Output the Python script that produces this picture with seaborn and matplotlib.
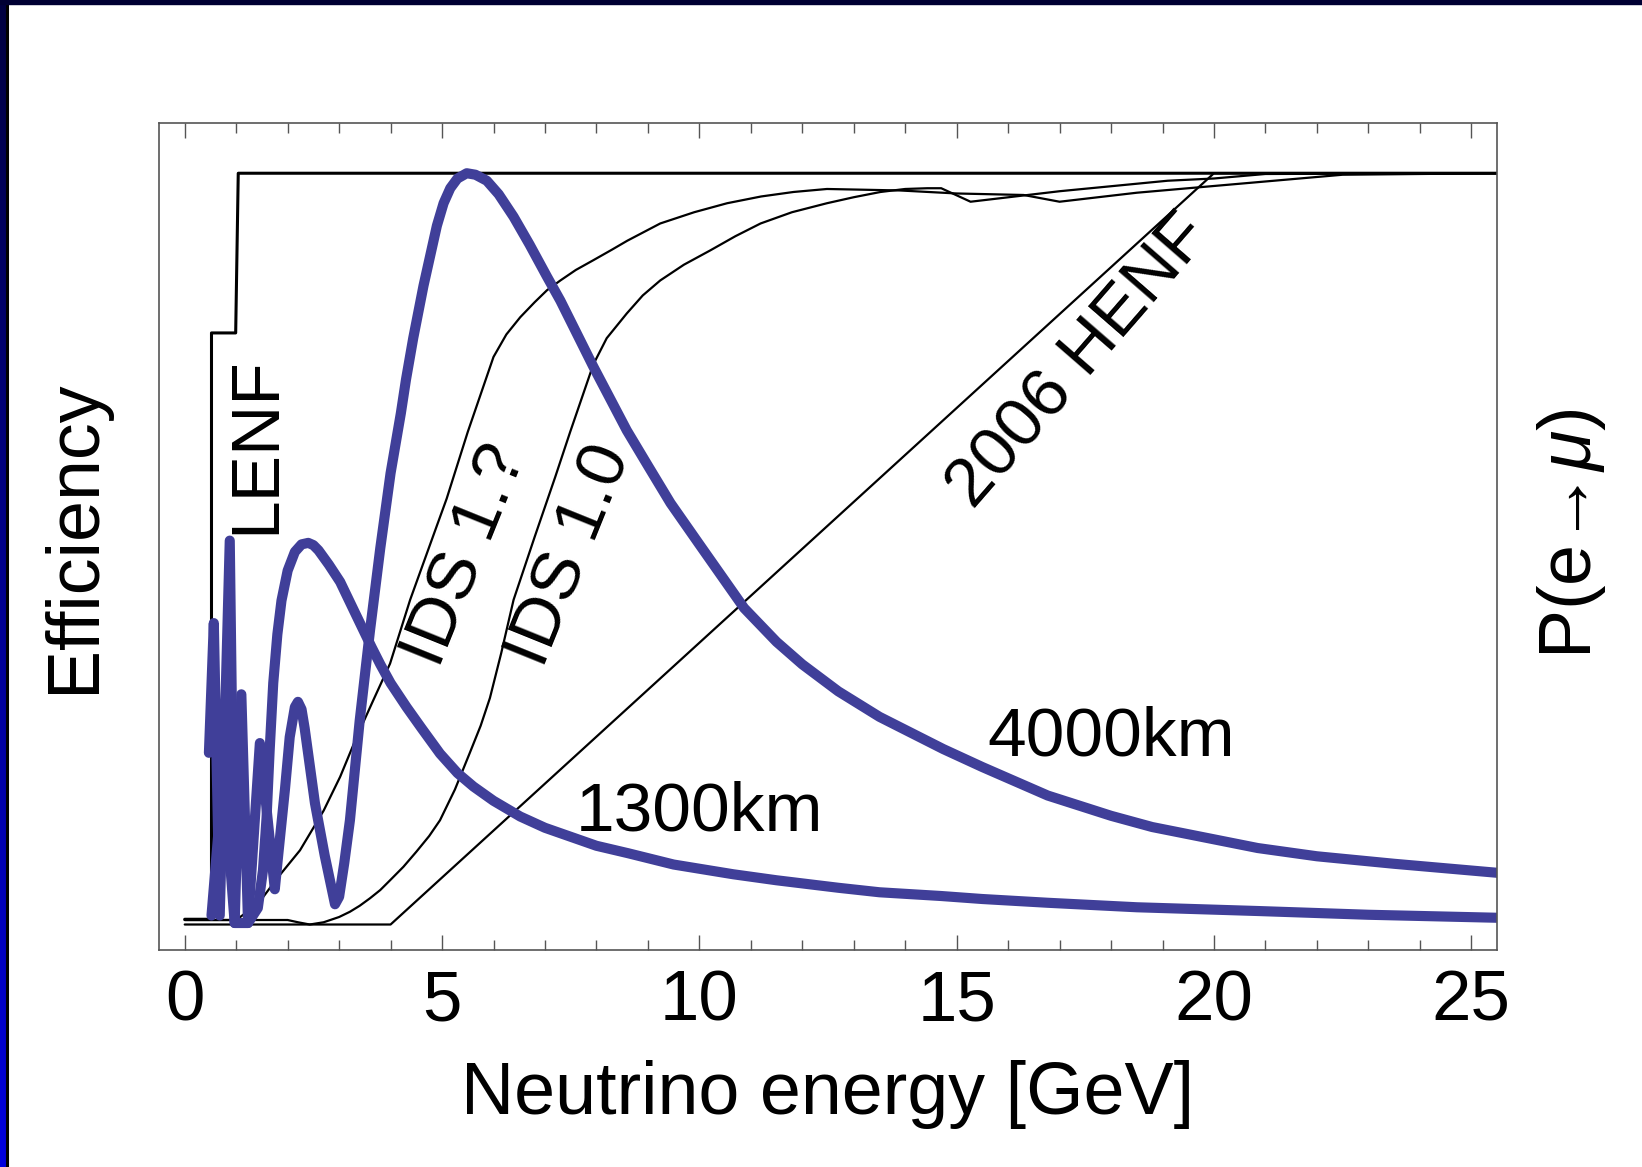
import numpy as np
import pandas as pd
import matplotlib
matplotlib.use("Agg")
import matplotlib.pyplot as plt
import seaborn as sns
from matplotlib.patches import Rectangle
from matplotlib.lines import Line2D

# ---- data ----
lenf_x = [0.0, 0.52, 0.52, 0.99, 1.04, 25.5]
lenf_y = [0.005, 0.005, 0.787, 0.787, 1.0, 1.0]

ids1q_x = [0.0, 1.0, 1.43, 1.8, 2.24, 2.7, 3.02, 3.34, 3.65, 3.99, 4.38, 4.9, 5.09, 5.5,
           6.0, 6.25, 6.52, 6.8, 7.04, 7.3, 7.6, 7.94, 8.3, 8.6, 9.24, 9.9, 10.54, 11.2,
           11.83, 12.48, 13.2, 13.9, 15.0, 16.3, 17.0, 18.5, 20.0, 21.5, 22.5, 25.5]
ids1q_y = [0.004, 0.004, 0.026, 0.06, 0.097, 0.15, 0.195, 0.248, 0.295, 0.346, 0.431, 0.53,
           0.566, 0.655, 0.755, 0.785, 0.808, 0.828, 0.844, 0.857, 0.871, 0.884, 0.898,
           0.91, 0.933, 0.948, 0.96, 0.969, 0.975, 0.979, 0.978, 0.977, 0.973, 0.971,
           0.962, 0.974, 0.983, 0.992, 0.998, 1.0]

ids10_x = [0.0, 2.0, 2.2, 2.43, 2.7, 3.0, 3.21, 3.4, 3.6, 3.8, 3.99, 4.25, 4.5, 4.75,
           4.96, 5.25, 5.54, 5.75, 5.93, 6.15, 6.39, 6.8, 7.2, 7.49, 7.94, 8.2, 8.59, 8.9,
           9.24, 9.7, 10.21, 10.7, 11.19, 11.8, 12.48, 13.0, 13.52, 14.0, 14.43, 14.7,
           15.27, 17.0, 19.1, 20.0, 21.0, 25.5]
ids10_y = [0.004, 0.004, 0.001, -0.002, 0.001, 0.008, 0.015, 0.023, 0.033, 0.044, 0.057,
           0.075, 0.095, 0.116, 0.137, 0.178, 0.227, 0.263, 0.30, 0.36, 0.431, 0.515,
           0.595, 0.655, 0.745, 0.78, 0.813, 0.837, 0.857, 0.878, 0.897, 0.916, 0.933,
           0.948, 0.96, 0.968, 0.975, 0.979, 0.98, 0.98, 0.962, 0.976, 0.99, 0.993, 0.999,
           1.0]

henf_x = [0.0, 4.0, 20.0, 25.5]
henf_y = [-0.002, -0.002, 1.0, 1.0]

p1300_x = [0.47, 0.565, 0.68, 0.875, 0.97, 1.23, 1.42, 1.52, 1.59, 1.65, 1.72, 1.80, 1.88,
           2.0, 2.14, 2.27, 2.4, 2.5, 2.6, 2.8, 3.02, 3.3, 3.63, 3.8, 4.0, 4.31, 4.6,
           4.96, 5.3, 5.61, 6.0, 6.52, 7.0, 7.5, 8.0, 8.62, 9.5, 10.66, 11.5, 12.7, 13.5,
           14.7, 15.5, 16.77, 18.5, 20.85, 23.0, 25.5]
p1300_y = [0.227, 0.40, 0.01, 0.51, 0.0, 0.0, 0.02, 0.07, 0.14, 0.23, 0.32, 0.385, 0.43,
           0.47, 0.495, 0.505, 0.507, 0.504, 0.497, 0.478, 0.455, 0.415, 0.368, 0.345,
           0.32, 0.288, 0.26, 0.226, 0.2, 0.182, 0.163, 0.142, 0.127, 0.115, 0.103, 0.093,
           0.078, 0.065, 0.057, 0.047, 0.041, 0.036, 0.032, 0.027, 0.021, 0.016, 0.011,
           0.007]

p4000_x = [0.52, 0.75, 0.97, 1.10, 1.23, 1.46, 1.75, 1.82, 1.95, 2.04, 2.14, 2.2, 2.27,
           2.33, 2.53, 2.72, 2.92, 3.0, 3.1, 3.21, 3.3, 3.4, 3.5, 3.6, 3.7, 3.8, 3.9, 4.0,
           4.1, 4.2, 4.3, 4.44, 4.54, 4.64, 4.77, 4.9, 5.03, 5.16, 5.3, 5.48, 5.65, 5.87,
           6.1, 6.39, 6.7, 7.04, 7.3, 7.94, 8.59, 9.0, 9.44, 10.0, 10.87, 11.5, 12.0,
           12.7, 13.5, 14.74, 15.5, 16.77, 18.0, 18.8, 20.85, 22.0, 23.5, 25.5]
p4000_y = [0.01, 0.2, 0.0, 0.305, 0.0, 0.24, 0.045, 0.093, 0.18, 0.248, 0.288, 0.295,
           0.285, 0.26, 0.16, 0.09, 0.025, 0.035, 0.08, 0.137, 0.2, 0.27, 0.33, 0.39,
           0.445, 0.50, 0.55, 0.60, 0.64, 0.68, 0.725, 0.78, 0.815, 0.85, 0.89, 0.93,
           0.96, 0.98, 0.993, 1.0, 0.998, 0.99, 0.972, 0.942, 0.905, 0.862, 0.83, 0.742,
           0.657, 0.61, 0.56, 0.505, 0.42, 0.375, 0.345, 0.309, 0.275, 0.232, 0.208,
           0.17, 0.143, 0.128, 0.10, 0.089, 0.079, 0.067]

BLUE = "#403f99"

sns.set_theme(style="white")
plt.rcParams["font.family"] = ["Liberation Sans", "DejaVu Sans"]
plt.rcParams["mathtext.fontset"] = "custom"
plt.rcParams["mathtext.it"] = "Liberation Sans:italic"
plt.rcParams["mathtext.rm"] = "Liberation Sans"
plt.rcParams["text.color"] = "black"
plt.rcParams["axes.labelcolor"] = "black"

fig = plt.figure(figsize=(16.42, 11.67), dpi=100)
fig.patch.set_facecolor("white")
ax = fig.add_axes([159 / 1642, 1 - 950 / 1167, (1497 - 159) / 1642, (950 - 123) / 1167])


def draw(xs, ys, color, lw):
    df = pd.DataFrame({"x": xs, "y": ys})
    sns.lineplot(data=df, x="x", y="y", ax=ax, color=color, linewidth=lw,
                 sort=False, estimator=None, solid_joinstyle="round")


draw(lenf_x, lenf_y, "black", 2.2)
draw(ids1q_x, ids1q_y, "black", 1.6)
draw(ids10_x, ids10_y, "black", 1.6)
draw(henf_x, henf_y, "black", 1.6)
draw(p1300_x, p1300_y, BLUE, 7.3)
draw(p4000_x, p4000_y, BLUE, 7.3)

ax.set_xlim(-0.5, 25.5)
ax.set_ylim(-0.036, 1.067)
ax.set_xticks([0, 5, 10, 15, 20, 25])
ax.set_xticks(np.arange(0, 26, 1), minor=True)
ax.set_yticks([])
ax.tick_params(axis="x", which="major", direction="in", length=11, width=1.0,
               color="#555555", labelcolor="black", top=True, bottom=True,
               labelsize=51, pad=14)
ax.tick_params(axis="x", which="minor", direction="in", length=7, width=1.0,
               color="#555555", top=True, bottom=True)
for s in ax.spines.values():
    s.set_color("#555555")
    s.set_linewidth(1.2)

ax.set_xlabel("Neutrino energy [GeV]", fontsize=53, labelpad=18)
ax.set_ylabel("Efficiency", fontsize=53, labelpad=36)
fig.text(1571 / 1642, 1 - 534 / 1167, r"P(e→$\mu$)", fontsize=53, rotation=90,
         ha="center", va="center")

ax.text(1.39, 0.637, "LENF", fontsize=50, rotation=90, ha="center", va="center")
ax.text(5.47, 0.49, "IDS 1.?", fontsize=50, rotation=68, ha="center", va="center",
        rotation_mode="anchor")
ax.text(7.5, 0.49, "IDS 1.0", fontsize=50, rotation=68, ha="center", va="center",
        rotation_mode="anchor")
ax.text(17.39, 0.749, "2006 HENF", fontsize=50, rotation=49, ha="center", va="center",
        rotation_mode="anchor")
ax.text(18.0, 0.247, "4000km", fontsize=50, ha="center", va="center")
ax.text(10.0, 0.148, "1300km", fontsize=50, ha="center", va="center")

# slide frame: dark band on top, blue gradient on the left
fig.add_artist(Rectangle((0, 1 - 4 / 1167), 1, 4 / 1167, transform=fig.transFigure,
                         color="#000033", zorder=10))
gax = fig.add_axes([0, 0, 6 / 1642, 1])
grad = np.linspace(0, 1, 256).reshape(-1, 1)
cmap = matplotlib.colors.LinearSegmentedColormap.from_list("frame", ["#000040", "#0000dd"])
gax.imshow(grad, aspect="auto", cmap=cmap, origin="upper")
gax.set_axis_off()
fig.add_artist(Line2D([7 / 1642, 7 / 1642], [0, 1], transform=fig.transFigure,
                      color="black", linewidth=2.2))

fig.savefig("out.png", dpi=100)
